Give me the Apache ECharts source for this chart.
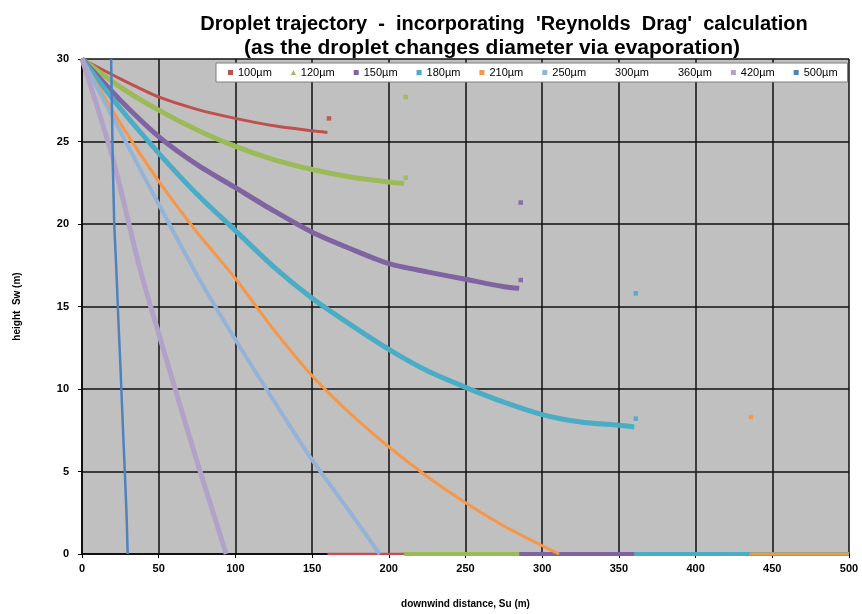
<!DOCTYPE html>
<html>
<head>
<meta charset="utf-8">
<script src="https://cdn.jsdelivr.net/npm/echarts@6/dist/echarts.min.js"></script>
<style>
  html, body { margin: 0; padding: 0; background: #fff; }
  #chart { width: 862px; height: 614px; }
</style>
</head>
<body>
<div id="chart"></div>
<script>
// droplet sizes (legend)
var sizes = ['100µm', '120µm', '150µm', '180µm', '210µm', '250µm', '300µm', '360µm', '420µm', '500µm'];
var colors = ['#c0504d', '#9bbb59', '#8064a2', '#4bacc6', '#f79646', '#95b3d7', 'rgba(0,0,0,0)', 'rgba(0,0,0,0)', '#b3a2c7', '#4f81bd'];
var widths = [3, 5, 5, 5, 3, 4, 0, 0, 5, 2.5];

// trajectories [Su, Sw]
var path100 = [[0, 30], [25, 28.8], [50, 27.7], [75, 26.95], [100, 26.4], [125, 25.95], [150, 25.65], [160, 25.55]];
var path120 = [[0, 30], [25, 28.3], [50, 26.9], [75, 25.7], [100, 24.7], [125, 23.9], [150, 23.3], [175, 22.85], [200, 22.55], [210, 22.45]];
var path150 = [[0, 30], [25, 27.5], [50, 25.3], [75, 23.6], [100, 22.2], [125, 20.8], [150, 19.5], [175, 18.5], [200, 17.6], [225, 17.1], [250, 16.65], [275, 16.2], [285, 16.1]];
var path180 = [[0, 30], [25, 27.0], [50, 24.3], [75, 21.8], [100, 19.6], [125, 17.4], [150, 15.5], [175, 13.9], [200, 12.4], [225, 11.1], [250, 10.1], [275, 9.2], [300, 8.45], [325, 8.0], [350, 7.8], [360, 7.7]];
var path210 = [[0, 30], [25, 26.1], [50, 22.6], [75, 19.5], [100, 16.7], [125, 13.6], [150, 10.8], [175, 8.5], [200, 6.5], [225, 4.7], [250, 3.1], [275, 1.7], [300, 0.5], [311, 0]];
var path250 = [[0, 30], [25, 25.6], [50, 21.2], [75, 16.9], [100, 13.0], [125, 9.3], [150, 5.7], [175, 2.5], [194, 0]];
var path300 = [];
var path360 = [];
var path420 = [[0, 30], [20, 24.0], [38, 17.2], [55, 11.8], [72, 6.5], [94, 0]];
var path500 = [[19, 30], [20, 24], [21, 20], [22.5, 17], [23.7, 14.2], [25, 11.5], [26, 9.2], [27.2, 6.5], [28, 4.8], [29, 2.5], [29.8, 0]];

// stray end points
var marks100 = [[161, 26.4]];
var marks120 = [[211, 22.8], [211, 27.7]];
var marks150 = [[286, 16.6], [286, 21.3]];
var marks180 = [[361, 8.2], [361, 15.8]];
var marks210 = [[436, 8.3]];

// ground segments (start Su, run to the end of the axis)
var ground100 = [[160, 0], [500, 0]];
var ground120 = [[210, 0], [500, 0]];
var ground150 = [[285, 0], [500, 0]];
var ground180 = [[360, 0], [500, 0]];
var ground210 = [[435, 0], [500, 0]];
var groundWidths = [2.5, 4, 4, 4, 3];

var paths = [path100, path120, path150, path180, path210, path250, path300, path360, path420, path500];
var marks = [marks100, marks120, marks150, marks180, marks210];
var grounds = [ground100, ground120, ground150, ground180, ground210];

var myChart = echarts.init(document.getElementById('chart'));

var series = [];
// ground lines first so the curves sit on top
for (var g = 0; g < grounds.length; g++) {
    series.push({
        name: sizes[g], type: 'line', data: grounds[g], showSymbol: false,
        lineStyle: { color: colors[g], width: groundWidths[g] }, itemStyle: { color: colors[g] },
        silent: true
    });
}
for (var i = 0; i < sizes.length; i++) {
    series.push({
        name: sizes[i], type: 'line', data: paths[i], showSymbol: false,
        smooth: i === 9 ? false : 0.25,
        lineStyle: { color: colors[i], width: widths[i] }, itemStyle: { color: colors[i] }
    });
}
for (var m = 0; m < marks.length; m++) {
    series.push({
        name: sizes[m], type: 'scatter', data: marks[m], symbol: 'rect', symbolSize: 4.5,
        itemStyle: { color: colors[m], opacity: 0.9 }
    });
}

var legendIcons = ['rect', 'triangle', 'rect', 'rect', 'rect', 'rect', 'rect', 'rect', 'rect', 'rect'];
var legendData = sizes.map(function (s, k) {
    return { name: s, icon: legendIcons[k], itemStyle: { color: colors[k] } };
});

var option = {
    animation: false,
    title: [{
        text: "Droplet trajectory  -  incorporating  'Reynolds  Drag'  calculation",
        left: 499, top: 9, textAlign: 'center',
        textStyle: { fontFamily: 'Liberation Sans', fontSize: 20, fontWeight: 'bold', color: '#000' }
    }, {
        text: '(as the droplet changes diameter via evaporation)',
        left: 487, top: 33, textAlign: 'center',
        textStyle: { fontFamily: 'Liberation Sans', fontSize: 21, fontWeight: 'bold', color: '#000' }
    }],
    legend: {
        data: legendData,
        left: 216, top: 63,
        itemWidth: 5, itemHeight: 5, itemGap: 19,
        padding: [4, 10, 4, 12],
        backgroundColor: '#fff', borderColor: '#7f7f7f', borderWidth: 1,
        textStyle: { fontFamily: 'Liberation Sans Narrow, Liberation Sans', fontSize: 11, color: '#000' }
    },
    grid: {
        left: 82, right: 13, top: 59, bottom: 56,
        show: true, backgroundColor: '#c0c0c0', borderWidth: 0
    },
    xAxis: {
        type: 'value', min: 0, max: 500, interval: 50,
        name: 'downwind distance, Su (m)', nameLocation: 'middle', nameGap: 45,
        nameTextStyle: { fontFamily: 'Liberation Sans', fontSize: 10, fontWeight: 'bold', color: '#000' },
        axisLine: { show: true, lineStyle: { color: '#000', width: 1.5 } },
        axisTick: { show: true, length: 4, lineStyle: { color: '#000' } },
        axisLabel: { fontFamily: 'Liberation Sans', fontSize: 11, fontWeight: 'bold', color: '#000', margin: 9 },
        splitLine: { show: true, lineStyle: { color: '#111', width: 1.5 } }
    },
    yAxis: {
        type: 'value', min: 0, max: 30, interval: 5,
        name: 'height  Sw (m)', nameLocation: 'middle', nameGap: 60, nameRotate: 90,
        nameTextStyle: { fontFamily: 'Liberation Sans', fontSize: 10, fontWeight: 'bold', color: '#000' },
        axisLine: { show: true, lineStyle: { color: '#000', width: 1.5 } },
        axisTick: { show: true, length: 4, lineStyle: { color: '#000' } },
        axisLabel: { fontFamily: 'Liberation Sans', fontSize: 11, fontWeight: 'bold', color: '#000', margin: 13 },
        splitLine: { show: true, lineStyle: { color: '#111', width: 1.5 } }
    },
    series: series
};

myChart.setOption(option);
</script>
</body>
</html>
